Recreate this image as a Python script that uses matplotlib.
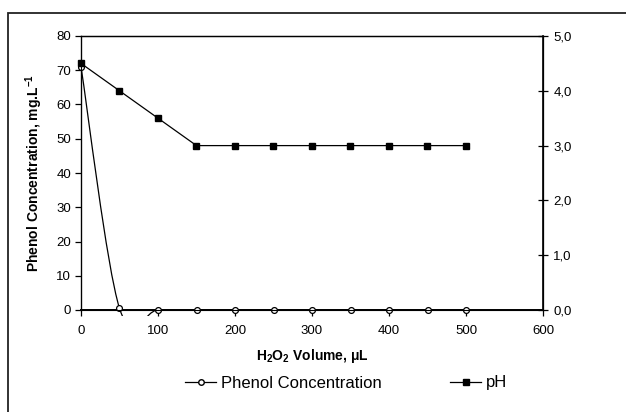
import matplotlib
matplotlib.use("Agg")
import matplotlib.pyplot as plt
import numpy as np
from matplotlib.path import Path
from matplotlib.patches import PathPatch, Rectangle
from matplotlib.lines import Line2D
from matplotlib.ticker import FuncFormatter

plt.rcParams['font.family'] = ['Liberation Sans', 'DejaVu Sans']
plt.rcParams['mathtext.fontset'] = 'custom'
plt.rcParams['mathtext.rm'] = 'Liberation Sans'
plt.rcParams['mathtext.bf'] = 'Liberation Sans:bold'

# Data
volume = [0, 50, 100, 150, 200, 250, 300, 350, 400, 450, 500]
phenol = [71, 0.5, 0, 0, 0, 0, 0, 0, 0, 0, 0]
ph = [4.5, 4.0, 3.5, 3.0, 3.0, 3.0, 3.0, 3.0, 3.0, 3.0, 3.0]


def smooth_path(xs, ys):
    # Excel-like smoothed line (Catmull-Rom as cubic Bezier)
    pts = np.column_stack([xs, ys]).astype(float)
    verts = [pts[0]]
    codes = [Path.MOVETO]
    n = len(pts)
    for i in range(n - 1):
        p0 = pts[i - 1] if i > 0 else pts[i]
        p1 = pts[i]
        p2 = pts[i + 1]
        p3 = pts[i + 2] if i + 2 < n else pts[i + 1]
        c1 = p1 + (p2 - p0) / 6.0
        c2 = p2 - (p3 - p1) / 6.0
        verts += [c1, c2, p2]
        codes += [Path.CURVE4] * 3
    return Path(verts, codes)


fig = plt.figure(figsize=(6.26, 4.12), dpi=100)
ax = fig.add_axes([81 / 626, 1 - 310 / 412, 462 / 626, 274 / 412])

# outer chart border
fig.patches.append(Rectangle((8 / 626, -0.1), 1.2, 1 - 13 / 412 + 0.1,
                             transform=fig.transFigure, fill=False,
                             edgecolor='#222222', linewidth=1.3))

# phenol curve (smoothed) with clip slightly below the axis
patch = PathPatch(smooth_path(volume, phenol), facecolor='none',
                  edgecolor='black', linewidth=0.9, zorder=3)
ax.add_patch(patch)
clip = Rectangle((0, -0.022), 1, 1.022, transform=ax.transAxes)
patch.set_clip_path(clip)
ax.plot(volume, phenol, linestyle='none', marker='o', markersize=4.2,
        markerfacecolor='white', markeredgecolor='black',
        markeredgewidth=0.9, zorder=4, clip_on=False)

ax.set_xlim(0, 600)
ax.set_ylim(0, 80)
ax.set_xticks(range(0, 601, 100))
ax.set_yticks(range(0, 81, 10))
ax.tick_params(axis='both', direction='out', length=4, width=0.9,
               labelsize=9.5, pad=3)
ax.tick_params(axis='x', pad=7)
ax.tick_params(top=False)
for s in ax.spines.values():
    s.set_linewidth(0.9)
ax.spines['bottom'].set_linewidth(1.4)

ax.set_xlabel(r'H$_\mathbf{2}$O$_\mathbf{2}$ Volume, μL', fontsize=10,
              fontweight='bold', labelpad=7)
ax.set_ylabel(r'Phenol Concentration, mg.L$^{\mathbf{-1}}$', fontsize=10,
              fontweight='bold', labelpad=8)

# pH on right axis
ax2 = ax.twinx()
ax2.plot(volume, ph, color='black', linewidth=0.9, marker='s',
         markersize=4.6, markerfacecolor='black', zorder=5, clip_on=False)
ax2.set_ylim(0, 5)
ax2.set_yticks(np.arange(0, 5.1, 1))
ax2.yaxis.set_major_formatter(FuncFormatter(lambda v, p: f'{v:.1f}'.replace('.', ',')))
ax2.tick_params(axis='y', direction='inout', length=7, width=0.9,
                labelsize=9.5, pad=4)
ax2.spines['right'].set_linewidth(1.2)
ax2.spines['top'].set_linewidth(0.9)

# legend
h1 = Line2D([], [], color='black', linewidth=0.9, marker='o', markersize=4,
            markerfacecolor='white', markeredgecolor='black')
h2 = Line2D([], [], color='black', linewidth=0.9, marker='s', markersize=4.2,
            markerfacecolor='black')
fig.legend([h1, h2], ['Phenol Concentration', 'pH'], loc='center',
           bbox_to_anchor=(0.553, 1 - 383 / 412), ncol=2, frameon=False,
           fontsize=12, handlelength=1.85, handletextpad=0.3,
           columnspacing=4.1)

fig.savefig('out.png', dpi=100)
